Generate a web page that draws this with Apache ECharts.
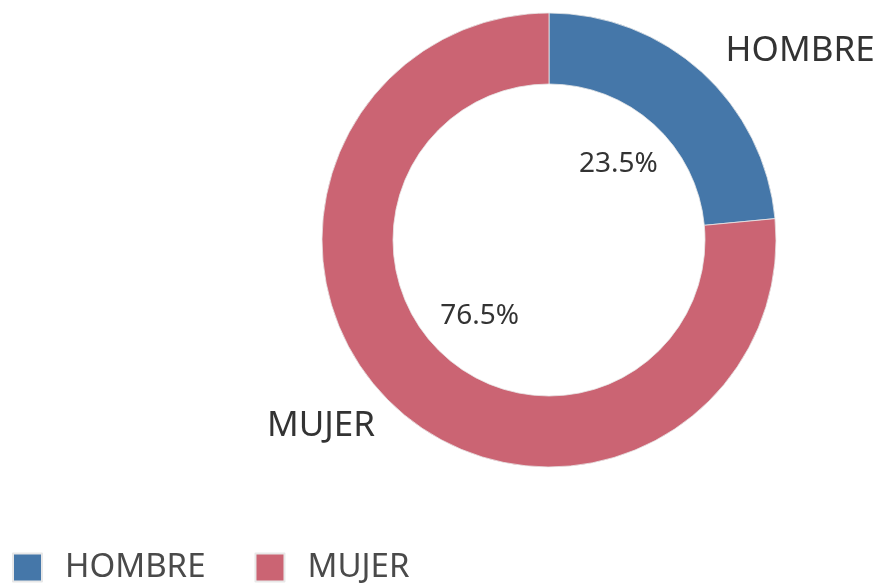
<!DOCTYPE html>
<html>
<head>
<meta charset="utf-8">
<script src="https://cdn.jsdelivr.net/npm/echarts@6/dist/echarts.min.js"></script>
<style>
  html, body { margin: 0; padding: 0; background: #fff; }
  #chart { width: 876px; height: 583px; }
</style>
</head>
<body>
<div id="chart"></div>
<script>
// datos
const categories = ['HOMBRE', 'MUJER'];
const values = [23.5, 76.5];
const colors = ['#4577a9', '#cb6473'];
const nameLineLength = [28, 24];

const chart = echarts.init(document.getElementById('chart'));

const ringData = categories.map((name, i) => ({
    name: name,
    value: values[i],
    itemStyle: { color: colors[i] },
    labelLine: { show: false, length: nameLineLength[i], length2: 0 }
}));

// serie invisible solo para las etiquetas de porcentaje dentro del hueco
const pctData = categories.map((name, i) => ({ name: name, value: values[i] }));

chart.setOption({
    animation: false,
    textStyle: { fontFamily: 'Noto Sans' },
    legend: {
        left: 12,
        top: 551,
        padding: 0,
        icon: 'rect',
        itemWidth: 29,
        itemHeight: 28,
        itemGap: 49,
        data: categories,
        textStyle: {
            fontSize: 33,
            color: '#4a4a4a',
            fontFamily: 'Noto Sans',
            padding: [0, 0, 0, 18]
        }
    },
    series: [
        {
            type: 'pie',
            center: [549, 240],
            radius: [156, 227],
            startAngle: 90,
            clockwise: true,
            avoidLabelOverlap: false,
            itemStyle: { borderColor: '#e8e8e8', borderWidth: 0.8 },
            label: {
                show: true,
                position: 'outside',
                formatter: '{b}',
                fontSize: 35,
                color: '#333',
                fontFamily: 'Noto Sans'
            },
            emphasis: { disabled: true },
            data: ringData
        },
        {
            type: 'pie',
            center: [549, 240],
            radius: [0, 200],
            startAngle: 90,
            silent: true,
            legendHoverLink: false,
            itemStyle: { color: 'rgba(0,0,0,0)' },
            label: {
                show: true,
                position: 'inside',
                formatter: p => p.value.toFixed(1) + '%',
                fontSize: 28,
                color: '#333',
                fontFamily: 'Noto Sans'
            },
            labelLine: { show: false },
            emphasis: { disabled: true },
            data: pctData
        }
    ]
});
</script>
</body>
</html>
